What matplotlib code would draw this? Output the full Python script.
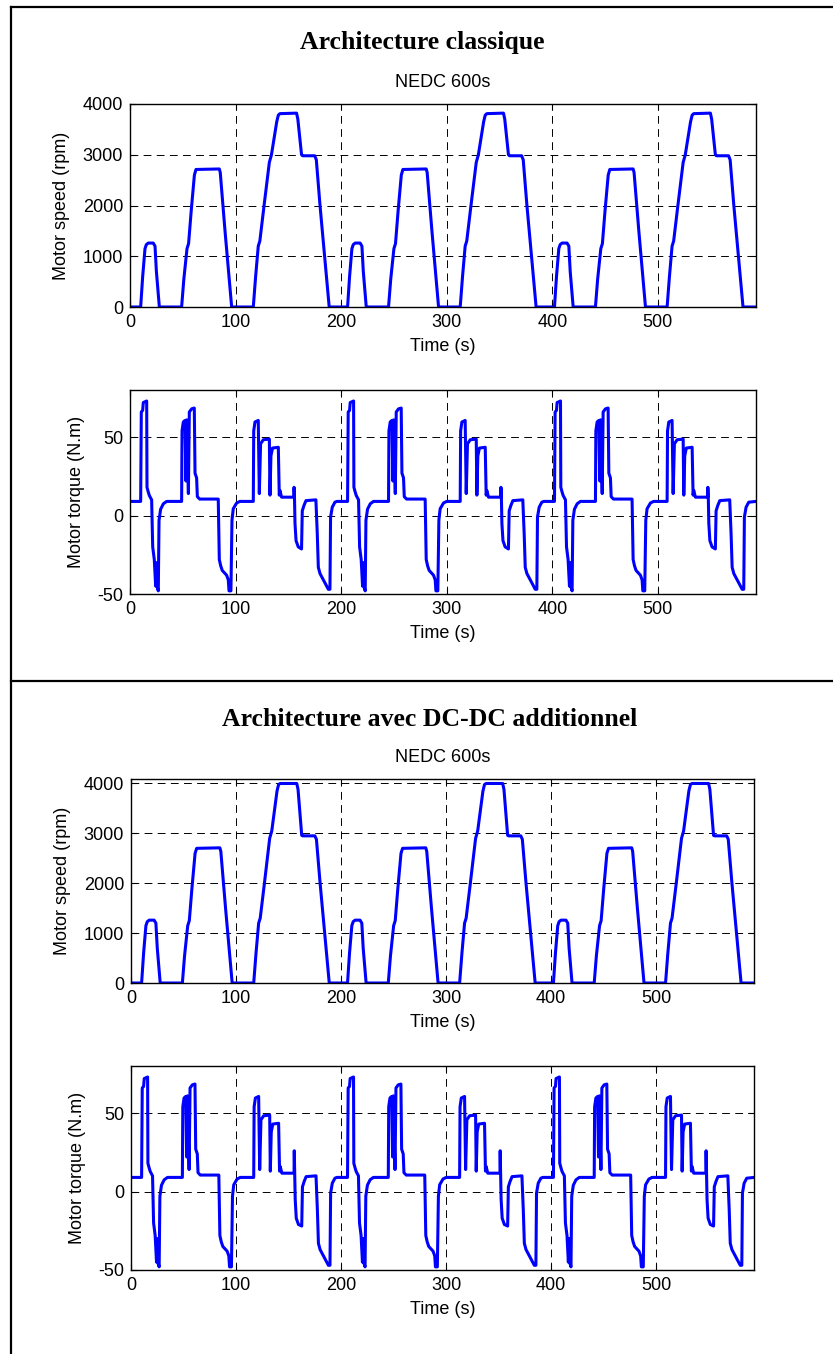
import matplotlib
matplotlib.use("Agg")
import matplotlib.pyplot as plt
from matplotlib.lines import Line2D

# ---------------- data ----------------
time_ticks = [0, 100, 200, 300, 400, 500]
speed_ticks = [0, 1000, 2000, 3000, 4000]
torque_ticks = [-50, 0, 50]

speed_time = [
    0, 10.1, 12.0, 14.2, 15.5, 17.3, 22.0, 23.7, 25.0, 27.8, 48.9, 51.0, 54.0, 55.5, 58.0, 61.0, 62.5, 84.6, 85.5, 90.0,
    96.3, 116.8, 119.0, 121.5, 123.0, 127.0, 132.0, 134.0, 139.0, 140.5, 142.0, 157.8, 159.0, 162.5, 163.5, 175.0, 176.5, 180.0, 188.7,
    196.0, 206.1, 208.0, 210.2, 211.5, 213.3, 218.0, 219.7, 221.0, 223.8, 244.9, 247.0, 250.0, 251.5, 254.0, 257.0, 258.5, 280.6, 281.5, 286.0,
    292.3, 312.8, 315.0, 317.5, 319.0, 323.0, 328.0, 330.0, 335.0, 336.5, 338.0, 353.8, 355.0, 358.5, 359.5, 371.0, 372.5, 376.0, 384.7,
    392.0, 402.1, 404.0, 406.2, 407.5, 409.3, 414.0, 415.7, 417.0, 419.8, 440.9, 443.0, 446.0, 447.5, 450.0, 453.0, 454.5, 476.6, 477.5, 482.0,
    488.3, 508.8, 511.0, 513.5, 515.0, 519.0, 524.0, 526.0, 531.0, 532.5, 534.0, 549.8, 551.0, 554.5, 555.5, 567.0, 568.5, 572.0, 580.7,
    593.0,
]

speed_classic = [
    0, 0, 600, 1150, 1230, 1260, 1260, 1200, 700, 0, 0, 550, 1150, 1250, 1900, 2600, 2710, 2720, 2650, 1500,
    0, 0, 600, 1200, 1300, 2000, 2850, 3000, 3650, 3780, 3810, 3820, 3700, 3000, 2980, 2980, 2900, 2000, 0,
    0, 0, 600, 1150, 1230, 1260, 1260, 1200, 700, 0, 0, 550, 1150, 1250, 1900, 2600, 2710, 2720, 2650, 1500,
    0, 0, 600, 1200, 1300, 2000, 2850, 3000, 3650, 3780, 3810, 3820, 3700, 3000, 2980, 2980, 2900, 2000, 0,
    0, 0, 600, 1150, 1230, 1260, 1260, 1200, 700, 0, 0, 550, 1150, 1250, 1900, 2600, 2710, 2720, 2650, 1500,
    0, 0, 600, 1200, 1300, 2000, 2850, 3000, 3650, 3780, 3810, 3820, 3700, 3000, 2980, 2980, 2900, 2000, 0,
    0,
]

speed_dcdc = [
    0, 0, 600, 1150, 1230, 1260, 1260, 1200, 700, 0, 0, 550, 1150, 1250, 1900, 2600, 2700, 2710, 2640, 1500,
    0, 0, 600, 1200, 1300, 2000, 2900, 3050, 3850, 3980, 4000, 4000, 3880, 2960, 2950, 2950, 2880, 2000, 0,
    0, 0, 600, 1150, 1230, 1260, 1260, 1200, 700, 0, 0, 550, 1150, 1250, 1900, 2600, 2700, 2710, 2640, 1500,
    0, 0, 600, 1200, 1300, 2000, 2900, 3050, 3850, 3980, 4000, 4000, 3880, 2960, 2950, 2950, 2880, 2000, 0,
    0, 0, 600, 1150, 1230, 1260, 1260, 1200, 700, 0, 0, 550, 1150, 1250, 1900, 2600, 2700, 2710, 2640, 1500,
    0, 0, 600, 1200, 1300, 2000, 2900, 3050, 3850, 3980, 4000, 4000, 3880, 2960, 2950, 2950, 2880, 2000, 0,
    0,
]

torque_time = [
    0, 10.1, 10.7, 12.0, 12.6, 15.8, 16.1, 17.3, 18.3, 20.5, 21.5, 23.0, 24.3, 25.3, 25.9, 26.8, 27.5, 29.0, 31.6, 34.7,
    48.9, 49.3, 50.5, 52.1, 53.0, 53.7, 55.3, 56.2, 58.4, 60.9, 61.6, 63.1, 63.8, 66.0, 83.6, 84.6, 85.9, 87.4, 91.5, 93.1,
    93.8, 95.6, 96.6, 97.8, 101.0, 104.0, 116.8, 117.2, 118.4, 121.5, 122.5, 123.7, 126.3, 132.0, 132.6, 133.5, 135.0, 140.5, 141.4, 142.0,
    143.6, 155.2, 155.4, 155.8, 156.3, 157.3, 159.4, 162.5, 163.2, 164.8, 166.7, 176.1, 177.4, 178.4, 180.0, 182.4, 184.7, 187.9, 189.4, 190.0,
    191.6, 194.1,
    196.0, 206.1, 206.7, 208.0, 208.6, 211.8, 212.1, 213.3, 214.3, 216.5, 217.5, 219.0, 220.3, 221.3, 221.9, 222.8, 223.5, 225.0, 227.6, 230.7,
    244.9, 245.3, 246.5, 248.1, 249.0, 249.7, 251.3, 252.2, 254.4, 256.9, 257.6, 259.1, 259.8, 262.0, 279.6, 280.6, 281.9, 283.4, 287.5, 289.1,
    289.8, 291.6, 292.6, 293.8, 297.0, 300.0, 312.8, 313.2, 314.4, 317.5, 318.5, 319.7, 322.3, 328.0, 328.6, 329.5, 331.0, 336.5, 337.4, 338.0,
    339.6, 351.2, 351.4, 351.8, 352.3, 353.3, 355.4, 358.5, 359.2, 360.8, 362.7, 372.1, 373.4, 374.4, 376.0, 378.4, 380.7, 383.9, 385.4, 386.0,
    387.6, 390.1,
    392.0, 402.1, 402.7, 404.0, 404.6, 407.8, 408.1, 409.3, 410.3, 412.5, 413.5, 415.0, 416.3, 417.3, 417.9, 418.8, 419.5, 421.0, 423.6, 426.7,
    440.9, 441.3, 442.5, 444.1, 445.0, 445.7, 447.3, 448.2, 450.4, 452.9, 453.6, 455.1, 455.8, 458.0, 475.6, 476.6, 477.9, 479.4, 483.5, 485.1,
    485.8, 487.6, 488.6, 489.8, 493.0, 496.0, 508.8, 509.2, 510.4, 513.5, 514.5, 515.7, 518.3, 524.0, 524.6, 525.5, 527.0, 532.5, 533.4, 534.0,
    535.6, 547.2, 547.4, 547.8, 548.3, 549.3, 551.4, 554.5, 555.2, 556.8, 558.7, 568.1, 569.4, 570.4, 572.0, 574.4, 576.7, 579.9, 581.4, 582.0,
    583.6, 586.1,
    593.0,
]

torque_classic = [
    9, 9, 66, 67, 72, 73, 18, 15, 12.8, 10, -20, -28, -45, -30, -46, -48, -3, 4, 7.5, 9,
    9, 54, 59.6, 60.6, 22, 61, 14, 66, 68, 68.5, 27, 24, 12, 10.5, 10.5, -28, -32, -35, -38, -41,
    -48, -48, -3, 4.3, 8, 9, 9, 54, 59.6, 60.6, 14, 45.7, 48.3, 48.7, 13, 38, 43, 43.5, 13, 16,
    11.7, 11.7, 18, 12, -5, -16, -20, -21.3, 3, 6.4, 9.5, 10, -11.7, -33, -37, -40, -43, -47, -47, -1,
    5.3, 8.5,
    9, 9, 66, 67, 72, 73, 18, 15, 12.8, 10, -20, -28, -45, -30, -46, -48, -3, 4, 7.5, 9,
    9, 54, 59.6, 60.6, 22, 61, 14, 66, 68, 68.5, 27, 24, 12, 10.5, 10.5, -28, -32, -35, -38, -41,
    -48, -48, -3, 4.3, 8, 9, 9, 54, 59.6, 60.6, 14, 45.7, 48.3, 48.7, 13, 38, 43, 43.5, 13, 16,
    11.7, 11.7, 18, 12, -5, -16, -20, -21.3, 3, 6.4, 9.5, 10, -11.7, -33, -37, -40, -43, -47, -47, -1,
    5.3, 8.5,
    9, 9, 66, 67, 72, 73, 18, 15, 12.8, 10, -20, -28, -45, -30, -46, -48, -3, 4, 7.5, 9,
    9, 54, 59.6, 60.6, 22, 61, 14, 66, 68, 68.5, 27, 24, 12, 10.5, 10.5, -28, -32, -35, -38, -41,
    -48, -48, -3, 4.3, 8, 9, 9, 54, 59.6, 60.6, 14, 45.7, 48.3, 48.7, 13, 38, 43, 43.5, 13, 16,
    11.7, 11.7, 18, 12, -5, -16, -20, -21.3, 3, 6.4, 9.5, 10, -11.7, -33, -37, -40, -43, -47, -47, -1,
    5.3, 8.5,
    9,
]

torque_dcdc = [
    9, 9, 66, 67, 72, 73, 18, 15, 12.8, 10, -20, -28, -45, -30, -46, -48, -3, 4, 7.5, 9,
    9, 54, 59.6, 60.6, 22, 61, 14, 66, 68, 68.5, 27, 24, 12, 10.5, 10.5, -28, -32, -35, -38, -41,
    -48, -48, -3, 4.3, 8, 9, 9, 54, 59.6, 60.6, 14, 45.7, 48.3, 48.7, 13, 38, 43, 43.5, 13, 16,
    11.7, 11.7, 26, 12, -5, -17, -21, -22, 3, 6.4, 9.5, 10, -11.7, -33, -37, -40, -43, -47, -47, -1,
    5.3, 8.5,
    9, 9, 66, 67, 72, 73, 18, 15, 12.8, 10, -20, -28, -45, -30, -46, -48, -3, 4, 7.5, 9,
    9, 54, 59.6, 60.6, 22, 61, 14, 66, 68, 68.5, 27, 24, 12, 10.5, 10.5, -28, -32, -35, -38, -41,
    -48, -48, -3, 4.3, 8, 9, 9, 54, 59.6, 60.6, 14, 45.7, 48.3, 48.7, 13, 38, 43, 43.5, 13, 16,
    11.7, 11.7, 26, 12, -5, -17, -21, -22, 3, 6.4, 9.5, 10, -11.7, -33, -37, -40, -43, -47, -47, -1,
    5.3, 8.5,
    9, 9, 66, 67, 72, 73, 18, 15, 12.8, 10, -20, -28, -45, -30, -46, -48, -3, 4, 7.5, 9,
    9, 54, 59.6, 60.6, 22, 61, 14, 66, 68, 68.5, 27, 24, 12, 10.5, 10.5, -28, -32, -35, -38, -41,
    -48, -48, -3, 4.3, 8, 9, 9, 54, 59.6, 60.6, 14, 45.7, 48.3, 48.7, 13, 38, 43, 43.5, 13, 16,
    11.7, 11.7, 26, 12, -5, -17, -21, -22, 3, 6.4, 9.5, 10, -11.7, -33, -37, -40, -43, -47, -47, -1,
    5.3, 8.5,
    9,
]

titles = ["Architecture classique", "Architecture avec DC-DC additionnel"]
subtitle = "NEDC 600s"
xlabel = "Time (s)"
ylabel_speed = "Motor speed (rpm)"
ylabel_torque = "Motor torque (N.m)"

# ---------------- figure ----------------
W, H = 833, 1354
plt.rcParams['font.family'] = ['Liberation Sans', 'DejaVu Sans']
plt.rcParams['axes.unicode_minus'] = False
fig = plt.figure(figsize=(W / 100, H / 100), dpi=100)

def rect(l, t, r, b):
    return [l / W, 1 - b / H, (r - l) / W, (b - t) / H]

def style(ax, yticks, ylim):
    ax.set_xlim(0, 593)
    ax.set_ylim(*ylim)
    ax.set_xticks(time_ticks)
    ax.set_yticks(yticks)
    ax.tick_params(direction='in', length=4, width=0.8, top=True, right=True,
                   labelsize=13, pad=5, colors='black')
    for s in ax.spines.values():
        s.set_linewidth(1.0)
        s.set_color('black')
    ax.grid(True, color='black', linewidth=0.7, linestyle=(0, (8, 5.5)))
    ax.set_axisbelow(True)
    ax.set_xlabel(xlabel, fontsize=13, labelpad=5)

ax1 = fig.add_axes(rect(130, 104, 756, 307))
ax1.plot(speed_time, speed_classic, color='#0000ff', linewidth=2.2)
style(ax1, speed_ticks, (0, 4000))
ax1.set_ylabel(ylabel_speed, fontsize=13, labelpad=9)
ax1.set_title(subtitle, fontsize=13, pad=12)

ax2 = fig.add_axes(rect(130, 390, 756, 594))
ax2.plot(torque_time, torque_classic, color='#0000ff', linewidth=2.2)
style(ax2, torque_ticks, (-50, 80))
ax2.set_ylabel(ylabel_torque, fontsize=13, labelpad=9)

ax3 = fig.add_axes(rect(131, 779, 754, 983))
ax3.plot(speed_time, speed_dcdc, color='#0000ff', linewidth=2.2)
style(ax3, speed_ticks, (0, 4090))
ax3.set_ylabel(ylabel_speed, fontsize=13, labelpad=9)
ax3.set_title(subtitle, fontsize=13, pad=12)

ax4 = fig.add_axes(rect(131, 1066, 754, 1270))
ax4.plot(torque_time, torque_dcdc, color='#0000ff', linewidth=2.2)
style(ax4, torque_ticks, (-50, 80))
ax4.set_ylabel(ylabel_torque, fontsize=13, labelpad=9)

# section titles
fig.text(422 / W, 1 - 43 / H, titles[0], ha='center', va='center',
         family='Liberation Serif', fontweight='bold', fontsize=18.5)
fig.text(430 / W, 1 - 720 / H, titles[1], ha='center', va='center',
         family='Liberation Serif', fontweight='bold', fontsize=18.5)

# frame lines
lw = 1.6
fig.add_artist(Line2D([11 / W, 11 / W], [0, 1 - 7 / H], transform=fig.transFigure, color='black', linewidth=lw))
fig.add_artist(Line2D([11 / W, 1], [1 - 7 / H, 1 - 7 / H], transform=fig.transFigure, color='black', linewidth=lw))
fig.add_artist(Line2D([11 / W, 1], [1 - 681 / H, 1 - 681 / H], transform=fig.transFigure, color='black', linewidth=lw))

fig.savefig("out.png", dpi=100)
